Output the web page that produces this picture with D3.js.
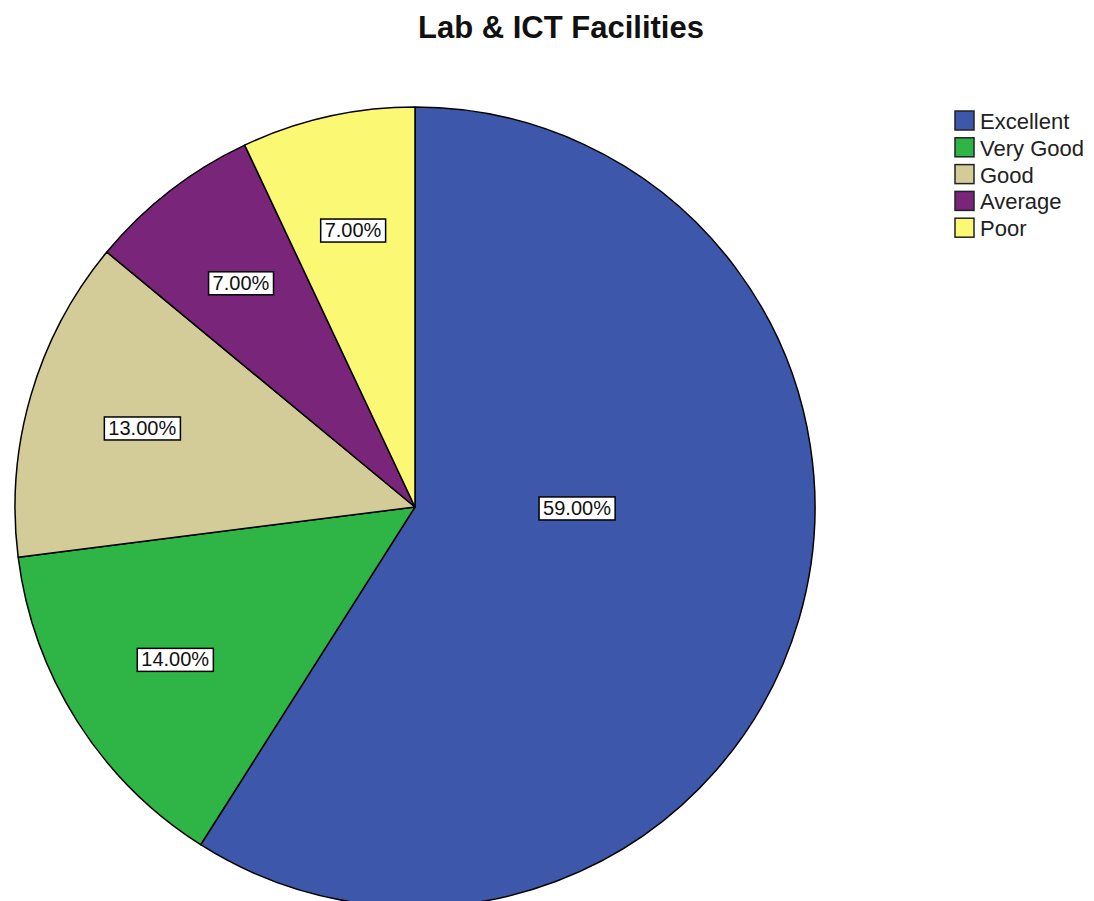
<!DOCTYPE html>
<html>
<head>
<meta charset="utf-8">
<script src="https://cdn.jsdelivr.net/npm/d3@7"></script>
<style>
  body { margin: 0; background: #fff; }
  text { font-family: "Liberation Sans", Arial, sans-serif; }
</style>
</head>
<body>
<div id="chart"></div>
<script>
// --- Data ---
const categories = ["Excellent", "Very Good", "Good", "Average", "Poor"];
const percents = [59, 14, 13, 7, 7];
const colors = ["#3d58ab", "#2fb546", "#d4cc98", "#79267a", "#fbf873"];

const W = 1094, H = 901;
const cx = 415, cy = 507, r = 400;

const svg = d3.select("#chart")
  .append("svg")
    .attr("width", W)
    .attr("height", H);

// --- Title ---
svg.append("text")
   .attr("x", 561)
   .attr("y", 38)
   .attr("text-anchor", "middle")
   .style("font-size", "31px")
   .style("font-weight", "bold")
   .attr("fill", "#111")
   .text("Lab & ICT Facilities");

const data = categories.map((c, i) => ({ cat: c, value: percents[i], color: colors[i] }));

const pie = d3.pie().sort(null).value(d => d.value);
const arcs = pie(data);
const arc = d3.arc().innerRadius(0).outerRadius(r);

const g = svg.append("g")
  .attr("transform", `translate(${cx},${cy})`);

g.selectAll("path")
  .data(arcs)
  .enter()
  .append("path")
    .attr("d", arc)
    .attr("fill", d => d.data.color)
    .attr("stroke", "#000")
    .attr("stroke-width", 1.5)
    .attr("stroke-linejoin", "round");

// --- Percentage labels ---
const fmt = d => d3.format(".2f")(d) + "%";
arcs.forEach(d => {
  const span = d.endAngle - d.startAngle;
  const big = span > Math.PI;
  const lr = big ? r * 0.405 : r * 0.71;
  const mid = big ? (d.startAngle + d.endAngle) / 2 * 0.85 : (d.startAngle + d.endAngle) / 2;
  const x = lr * Math.sin(mid), y = -lr * Math.cos(mid);
  const lg = g.append("g").attr("transform", `translate(${x},${y})`);
  const t = lg.append("text")
    .attr("text-anchor", "middle")
    .attr("dy", "0.36em")
    .style("font-size", "20px")
    .attr("fill", "#111")
    .text(fmt(d.data.value));
  const bb = t.node().getBBox();
  lg.insert("rect", "text")
    .attr("x", bb.x - 4)
    .attr("y", bb.y)
    .attr("width", bb.width + 8)
    .attr("height", bb.height + 1)
    .attr("fill", "#fff")
    .attr("stroke", "#000")
    .attr("stroke-width", 1.5);
});

// --- Legend ---
const legend = svg.append("g").attr("transform", "translate(955,111)");
const rows = legend.selectAll("g")
  .data(data)
  .enter()
  .append("g")
    .attr("transform", (d, i) => `translate(0,${i * 26.8})`);

rows.append("rect")
  .attr("width", 19)
  .attr("height", 19)
  .attr("fill", d => d.color)
  .attr("stroke", "#222")
  .attr("stroke-width", 1.5);

rows.append("text")
  .attr("x", 25)
  .attr("y", 10)
  .attr("dy", "0.36em")
  .style("font-size", "22px")
  .attr("fill", "#222")
  .text(d => d.cat);
</script>
</body>
</html>
